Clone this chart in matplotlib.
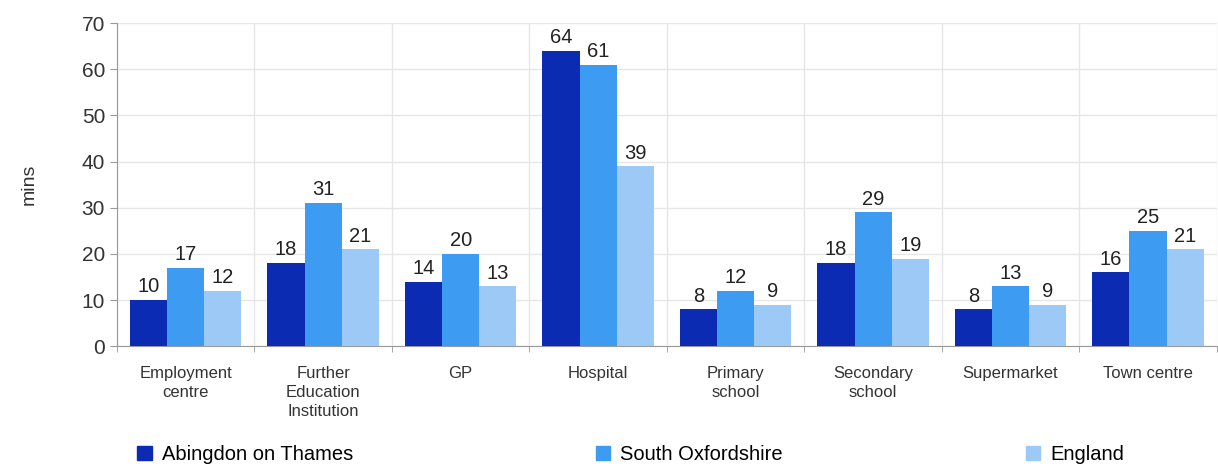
import numpy as np
import matplotlib.pyplot as plt
from matplotlib.patches import Patch

plt.rcParams['font.family'] = ['Liberation Sans', 'DejaVu Sans']

# --- data ---
categories = ["Employment\ncentre", "Further\nEducation\nInstitution", "GP", "Hospital",
              "Primary\nschool", "Secondary\nschool", "Supermarket", "Town centre"]
series_names = ["Abingdon on Thames", "South Oxfordshire", "England"]
abingdon = [10, 18, 14, 64, 8, 18, 8, 16]
south_oxon = [17, 31, 20, 61, 12, 29, 13, 25]
england = [12, 21, 13, 39, 9, 19, 9, 21]
colors = ["#0A2BB2", "#3D9CF2", "#9DC9F7"]

fig = plt.figure(figsize=(12.18, 4.73), dpi=100)
ax = fig.add_axes([0.096, 0.268, 0.903, 0.683])

x = np.arange(len(categories))
w = 0.27
for i, (vals, c) in enumerate(zip([abingdon, south_oxon, england], colors)):
    pos = x + (i - 1) * w
    ax.bar(pos, vals, width=w, color=c, zorder=3)
    for p, v in zip(pos, vals):
        ax.text(p, v + 0.8, str(v), ha='center', va='bottom', fontsize=14.5, color='#222222')

ax.set_xlim(-0.5, len(categories) - 0.5)
ax.set_ylim(0, 70)
ax.set_yticks(range(0, 71, 10))
ax.set_xticks(x)
ax.set_xticklabels(categories, fontsize=12, color='#333333', va='top', linespacing=1.35)
ax.tick_params(axis='y', labelsize=15, colors='#333333', length=5, color='#999999')
ax.tick_params(axis='x', length=0, pad=14)

# gridlines: horizontal at ticks, vertical at category boundaries
ax.set_xticks(np.arange(-0.5, len(categories), 1), minor=True)
ax.tick_params(axis='x', which='minor', length=4, color='#999999')
ax.grid(axis='y', color='#e6e6e6', lw=1, zorder=0)
ax.grid(axis='x', which='minor', color='#e6e6e6', lw=1, zorder=0)
ax.grid(axis='x', which='major', visible=False)

for s in ['top', 'right']:
    ax.spines[s].set_visible(False)
ax.spines['left'].set_color('#999999')
ax.spines['bottom'].set_color('#999999')

ax.set_ylabel("mins", fontsize=14, color='#333333', labelpad=32)

handles = [Patch(color=c) for c in colors]
fig.legend(handles, series_names, ncol=3, loc='lower left',
           bbox_to_anchor=(0.098, -0.02, 0.84, 0.07), mode='expand',
           frameon=False, fontsize=14.5, handlelength=0.7, handleheight=0.7,
           handletextpad=0.5)

plt.savefig("out.png", dpi=100)
